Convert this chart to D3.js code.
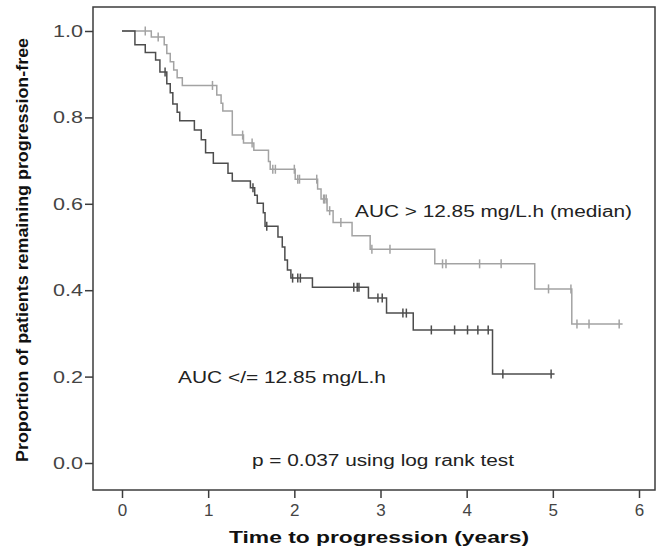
<!DOCTYPE html>
<html>
<head>
<meta charset="utf-8">
<script src="https://cdn.jsdelivr.net/npm/d3@7"></script>
<style>
  body { margin: 0; background: #fff; }
  text { font-family: "Liberation Sans", Arial, sans-serif; }
</style>
</head>
<body>
<svg id="km" width="659" height="550"></svg>
<script>
// High AUC group (> 12.85 mg/L.h, median) - light grey curve
var highTimes = [0.34, 0.49, 0.52, 0.56, 0.60, 0.64, 0.70, 1.10, 1.15, 1.17, 1.28, 1.41, 1.53, 1.70, 1.72, 2.01, 2.27, 2.31, 2.38, 2.45, 2.67, 2.88, 3.63, 4.79, 5.22];
var highSurv = [0.986, 0.968, 0.948, 0.929, 0.910, 0.892, 0.874, 0.852, 0.833, 0.815, 0.759, 0.741, 0.724, 0.698, 0.680, 0.657, 0.634, 0.611, 0.584, 0.557, 0.526, 0.495, 0.461, 0.403, 0.322];
var highCensor = [0.27, 0.42, 1.05, 1.40, 1.51, 1.75, 1.78, 2.00, 2.04, 2.06, 2.26, 2.34, 2.35, 2.37, 2.41, 2.54, 2.90, 3.11, 3.72, 3.76, 4.15, 4.40, 4.95, 5.21, 5.28, 5.42, 5.77];
var highEnd = 5.81;

// Low AUC group (</= 12.85 mg/L.h) - dark grey curve
var lowTimes = [0.15, 0.27, 0.39, 0.44, 0.52, 0.56, 0.59, 0.64, 0.67, 0.84, 0.92, 0.97, 1.06, 1.23, 1.28, 1.49, 1.54, 1.57, 1.64, 1.66, 1.81, 1.86, 1.89, 1.92, 1.96, 2.21, 2.86, 3.07, 3.38, 4.30];
var lowSurv = [0.968, 0.950, 0.933, 0.905, 0.878, 0.857, 0.831, 0.812, 0.792, 0.771, 0.748, 0.718, 0.694, 0.671, 0.653, 0.637, 0.620, 0.601, 0.579, 0.548, 0.523, 0.500, 0.470, 0.447, 0.428, 0.407, 0.382, 0.347, 0.308, 0.206];
var lowCensor = [0.50, 1.52, 1.68, 1.98, 2.04, 2.07, 2.69, 2.73, 2.75, 2.97, 3.02, 3.26, 3.30, 3.59, 3.86, 4.01, 4.13, 4.25, 4.42, 4.98];
var lowEnd = 5.02;

var xTicks = [0, 1, 2, 3, 4, 5, 6];
var yTicks = [0, 0.2, 0.4, 0.6, 0.8, 1.0];

var svg = d3.select('#km');

// frame of the plot
var box = { left: 93, right: 655, top: 7, bottom: 490 };

var x = d3.scaleLinear().domain([0, 6]).range([122, 639]);
var y = d3.scaleLinear().domain([0, 1]).range([463, 31]);

svg.append('rect')
  .attr('x', box.left)
  .attr('y', box.top)
  .attr('width', box.right - box.left)
  .attr('height', box.bottom - box.top)
  .attr('fill', 'none')
  .attr('stroke', '#3c3c3c')
  .attr('stroke-width', 1.5);

// y axis
var yAxis = svg.append('g')
  .attr('transform', 'translate(' + box.left + ',0)')
  .call(d3.axisLeft(y).tickValues(yTicks).tickFormat(d3.format('.1f')).tickSize(8).tickPadding(2));
yAxis.select('.domain').remove();
yAxis.selectAll('line').attr('stroke', '#3c3c3c').attr('stroke-width', 1.5);
yAxis.selectAll('text')
  .attr('fill', '#444')
  .style('font-size', '17px')
  .attr('textLength', 30)
  .attr('lengthAdjust', 'spacingAndGlyphs');

// x axis
var xAxis = svg.append('g')
  .attr('transform', 'translate(0,' + box.bottom + ')')
  .call(d3.axisBottom(x).tickValues(xTicks).tickFormat(d3.format('d')).tickSize(8).tickPadding(6));
xAxis.select('.domain').remove();
xAxis.selectAll('line').attr('stroke', '#3c3c3c').attr('stroke-width', 1.5);
xAxis.selectAll('text')
  .attr('fill', '#444')
  .style('font-size', '17px');

// axis titles
svg.append('text')
  .attr('x', 379)
  .attr('y', 543)
  .attr('text-anchor', 'middle')
  .style('font-size', '17px')
  .style('font-weight', 'bold')
  .attr('fill', '#111')
  .attr('textLength', 300)
  .attr('lengthAdjust', 'spacingAndGlyphs')
  .text('Time to progression (years)');

svg.append('text')
  .attr('transform', 'translate(28,250) rotate(-90)')
  .attr('text-anchor', 'middle')
  .style('font-size', '17px')
  .style('font-weight', 'bold')
  .attr('fill', '#111')
  .attr('textLength', 424)
  .attr('lengthAdjust', 'spacingAndGlyphs')
  .text('Proportion of patients remaining progression-free');

// build the step curves
function stepPoints(times, surv, end) {
  var pts = [{ t: 0, s: 1 }];
  times.forEach(function(t, i) { pts.push({ t: t, s: surv[i] }); });
  pts.push({ t: end, s: surv[surv.length - 1] });
  return pts;
}
function survAt(times, surv, t) {
  var s = 1;
  times.forEach(function(tt, i) { if (tt <= t) s = surv[i]; });
  return s;
}

var line = d3.line()
  .x(function(d) { return x(d.t); })
  .y(function(d) { return y(d.s); })
  .curve(d3.curveStepAfter);

var groups = [
  { times: highTimes, surv: highSurv, censor: highCensor, end: highEnd, color: '#a3a3a3' },
  { times: lowTimes, surv: lowSurv, censor: lowCensor, end: lowEnd, color: '#4d4d4d' }
];

groups.forEach(function(g) {
  svg.append('path')
    .datum(stepPoints(g.times, g.surv, g.end))
    .attr('d', line)
    .attr('fill', 'none')
    .attr('stroke', g.color)
    .attr('stroke-width', 1.5);

  svg.selectAll(null)
    .data(g.censor)
    .enter()
    .append('line')
    .attr('x1', function(d) { return x(d); })
    .attr('x2', function(d) { return x(d); })
    .attr('y1', function(d) { return y(survAt(g.times, g.surv, d)) - 4.5; })
    .attr('y2', function(d) { return y(survAt(g.times, g.surv, d)) + 4.5; })
    .attr('stroke', g.color)
    .attr('stroke-width', 1.5);
});

// annotations
svg.append('text')
  .attr('x', 355).attr('y', 217)
  .style('font-size', '16px')
  .attr('fill', '#222')
  .attr('textLength', 277)
  .attr('lengthAdjust', 'spacingAndGlyphs')
  .text('AUC > 12.85 mg/L.h (median)');

svg.append('text')
  .attr('x', 178).attr('y', 383)
  .style('font-size', '16px')
  .attr('fill', '#222')
  .attr('textLength', 208)
  .attr('lengthAdjust', 'spacingAndGlyphs')
  .text('AUC </= 12.85 mg/L.h');

svg.append('text')
  .attr('x', 252).attr('y', 466)
  .style('font-size', '16px')
  .attr('fill', '#222')
  .attr('textLength', 262)
  .attr('lengthAdjust', 'spacingAndGlyphs')
  .text('p = 0.037 using log rank test');
</script>
</body>
</html>
